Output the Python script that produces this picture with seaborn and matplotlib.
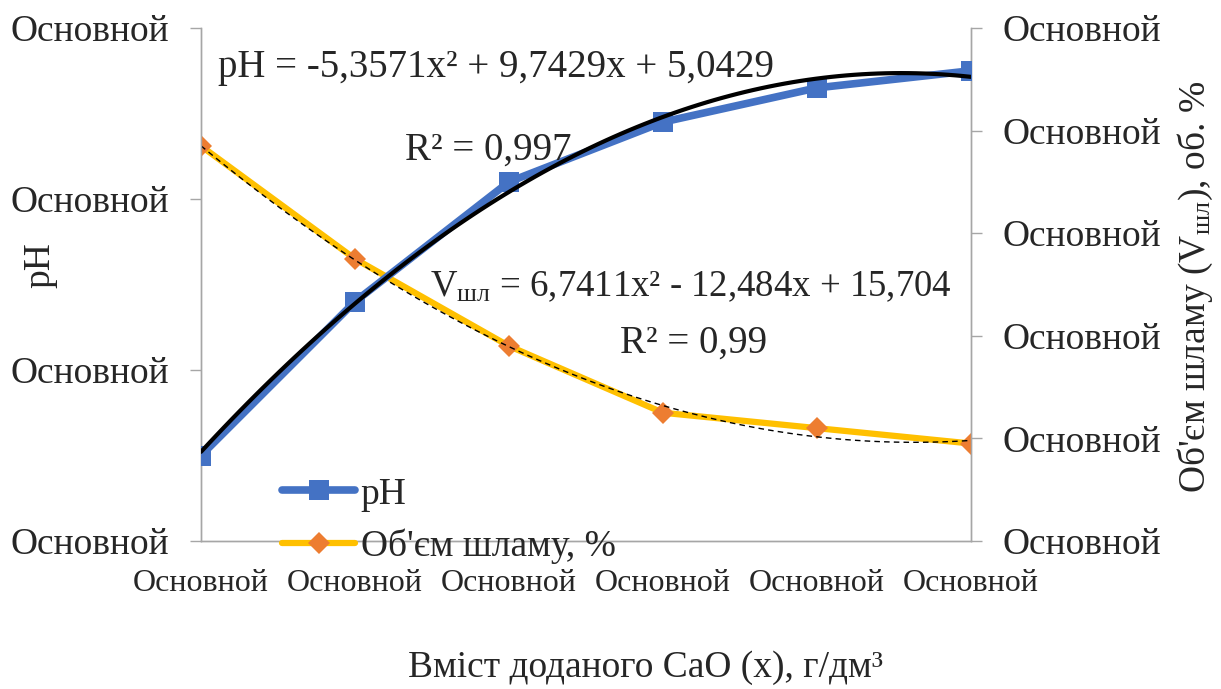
import numpy as np
import pandas as pd
import matplotlib
matplotlib.use("Agg")
import matplotlib.pyplot as plt
import seaborn as sns
from matplotlib.lines import Line2D

## data
cao_dose = [0.0, 0.2, 0.4, 0.6, 0.8, 1.0]
ph_values = [5.0, 6.8, 8.2, 8.9, 9.3, 9.5]
sludge_volume = [15.7, 13.5, 11.8, 10.5, 10.2, 9.9]
tick_text = "Основной"
ph_ticks = [4, 6, 8, 10]
vol_ticks = [8, 10, 12, 14, 16, 18]
x_ticks = [0.0, 0.2, 0.4, 0.6, 0.8, 1.0]

df = pd.DataFrame({'x': cao_dose, 'ph': ph_values, 'vol': sludge_volume})

sns.set_style("white")
plt.rcParams['font.family'] = ['Liberation Serif', 'DejaVu Serif']
plt.rcParams['mathtext.fontset'] = 'custom'
plt.rcParams['mathtext.rm'] = 'Liberation Serif'
plt.rcParams['mathtext.it'] = 'Liberation Serif:italic'

blue = '#4472C4'
yellow = '#FFC000'
orange = '#ED7D31'
grey = '#A6A6A6'
fs = 27

fig = plt.figure(figsize=(12.21, 6.89), dpi=100)
ax = fig.add_axes([201/1221, 1 - 541/689, 770/1221, 513/689])
ax2 = ax.twinx()

# pH series + quadratic trend
sns.lineplot(data=df, x='x', y='ph', ax=ax, color=blue, linewidth=5.5,
             marker='s', markersize=15, markeredgewidth=0, zorder=3)
sns.regplot(data=df, x='x', y='ph', ax=ax, order=2, ci=None, scatter=False,
            truncate=True, line_kws={'color': 'black', 'linewidth': 3, 'zorder': 4})

# sludge volume + quadratic trend
sns.lineplot(data=df, x='x', y='vol', ax=ax2, color=yellow, linewidth=4.5,
             marker='D', markersize=11, markeredgewidth=0, markerfacecolor=orange, zorder=3)
sns.regplot(data=df, x='x', y='vol', ax=ax2, order=2, ci=None, scatter=False,
            truncate=True, line_kws={'color': 'black', 'linewidth': 1, 'linestyle': (0, (4, 3)), 'zorder': 4})

ax.set_xlim(0, 1)
ax.set_ylim(4, 10)
ax2.set_ylim(8, 18)
ax.set_xticks(x_ticks)
ax.set_xticklabels([tick_text] * len(x_ticks), fontsize=23)
ax.set_yticks(ph_ticks)
ax.set_yticklabels([tick_text] * len(ph_ticks), fontsize=fs)
ax2.set_yticks(vol_ticks)
ax2.set_yticklabels([tick_text] * len(vol_ticks), fontsize=fs)

for a in (ax, ax2):
    a.spines['top'].set_visible(False)
    for s in ('left', 'right', 'bottom'):
        a.spines[s].set_color(grey)
        a.spines[s].set_linewidth(1)
    a.tick_params(direction='out', length=8, color=grey, width=1)
ax.tick_params(axis='x', pad=12)
ax.tick_params(axis='y', pad=15)
ax2.tick_params(axis='y', pad=15)
ax.set_zorder(ax2.get_zorder() + 1)
ax.patch.set_visible(False)

ax.set_xlabel("Вміст доданого CaO (x), г/дм³", fontsize=fs)
ax.xaxis.set_label_coords((645 - 201) / 770, -(668 - 541) / 513, transform=ax.transAxes)
ax.xaxis.label.set_va('center')
ax.set_ylabel("pH", fontsize=fs)
ax.yaxis.set_label_coords((40 - 201) / 770, (541 - 265) / 513)
ax.yaxis.label.set_va('center')
ax2.set_ylabel(r"Об'єм шламу (V$\mathregular{_{шл}}$), об. %", fontsize=fs)
ax2.yaxis.set_label_coords((1195 - 201) / 770, (541 - 287) / 513)
ax2.yaxis.label.set_va('center')

# trendline equations
fig.text(218/1221, 1 - 68/689, "pH = -5,3571x² + 9,7429x + 5,0429", fontsize=28, va='center')
fig.text(405/1221, 1 - 150/689, "R² = 0,997", fontsize=28, va='center')
fig.text(430/1221, 1 - 287/689, r"V$\mathregular{_{шл}}$ = 6,7411x² - 12,484x + 15,704", fontsize=26.5, va='center')
fig.text(620/1221, 1 - 343/689, "R² = 0,99", fontsize=28, va='center')

handles = [Line2D([], [], color=blue, linewidth=5.5, marker='s', markersize=15, markeredgewidth=0),
           Line2D([], [], color=yellow, linewidth=4.5, marker='D', markersize=11,
                  markeredgewidth=0, markerfacecolor=orange)]
ax.legend(handles, ['pH', "Об'єм шламу, %"], loc='upper left', frameon=False,
          bbox_to_anchor=(282/1221, 1 - 477/689), bbox_transform=fig.transFigure,
          fontsize=fs, handlelength=1.95, handletextpad=0.15, labelspacing=0.45,
          borderpad=0, borderaxespad=0)

fig.savefig('out.png', dpi=100)
